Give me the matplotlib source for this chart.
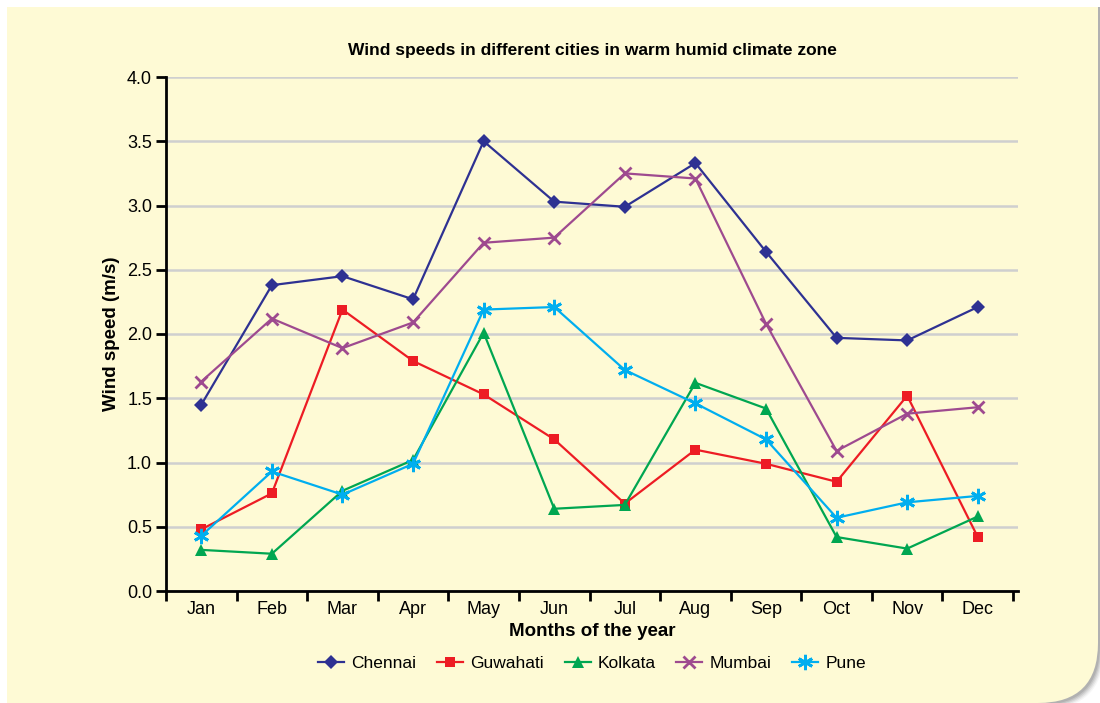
import numpy as np
import matplotlib.pyplot as plt
from matplotlib.patches import PathPatch
from matplotlib.path import Path
from matplotlib.ticker import FixedLocator, NullFormatter

plt.rcParams['font.family'] = ['Liberation Sans', 'DejaVu Sans']

months = ['Jan', 'Feb', 'Mar', 'Apr', 'May', 'Jun', 'Jul', 'Aug', 'Sep', 'Oct', 'Nov', 'Dec']
chennai = [1.45, 2.38, 2.45, 2.27, 3.50, 3.03, 2.99, 3.33, 2.64, 1.97, 1.95, 2.21]
guwahati = [0.48, 0.76, 2.19, 1.79, 1.53, 1.18, 0.68, 1.10, 0.99, 0.85, 1.52, 0.42]
kolkata = [0.32, 0.29, 0.78, 1.02, 2.01, 0.64, 0.67, 1.62, 1.42, 0.42, 0.33, 0.58]
mumbai = [1.63, 2.12, 1.89, 2.09, 2.71, 2.75, 3.25, 3.21, 2.08, 1.09, 1.38, 1.43]
pune = [0.43, 0.93, 0.75, 0.99, 2.19, 2.21, 1.72, 1.46, 1.18, 0.57, 0.69, 0.74]

bg = '#fefad5'
W, H = 1100, 703
fig = plt.figure(figsize=(11, 7.03), dpi=100, facecolor='white')

# cream panel with rounded lower-right corner and a soft shadow
def panel_path(x0, y0, x1, y1, r):
    verts = [(x0, y0), (x1 - r, y0), (x1, y0), (x1, y0 + r), (x1, y1), (x0, y1), (x0, y0)]
    codes = [Path.MOVETO, Path.LINETO, Path.CURVE3, Path.CURVE3, Path.LINETO, Path.LINETO, Path.CLOSEPOLY]
    return Path([(vx / W, vy / H) for vx, vy in verts], codes)

for i, a in enumerate(np.linspace(0.06, 0.22, 5)):
    off = 6 - i
    sh = PathPatch(panel_path(7, 0 - off, W - 2 + off, 696, 60), transform=fig.transFigure,
                   facecolor='#707070', edgecolor='none', alpha=a, zorder=-3)
    fig.patches.append(sh)
fig.patches.append(PathPatch(panel_path(7, 0, W - 2, 696, 60), transform=fig.transFigure,
                             facecolor=bg, edgecolor='none', zorder=-2))

ax = fig.add_axes([166 / W, (H - 591) / H, (1018 - 166) / W, (591 - 77) / H])
ax.set_facecolor('none')
x = np.arange(len(months)) + 0.5

series = [
    ('Chennai', chennai, '#2e3192', 'D', 7),
    ('Guwahati', guwahati, '#ed1c24', 's', 7),
    ('Kolkata', kolkata, '#00a651', '^', 8),
    ('Mumbai', mumbai, '#9e4a8f', 'x', 9),
    ('Pune', pune, '#00aeef', (6, 2, 0), 11),
]
for name, vals, col, mk, ms in series:
    kw = dict(markeredgewidth=2) if mk == 'x' or isinstance(mk, tuple) else dict(markeredgewidth=0)
    ax.plot(x, vals, color=col, lw=1.6, marker=mk, markersize=ms, markerfacecolor=col,
            markeredgecolor=col, label=name, zorder=3, **kw)

ax.set_xlim(0, 12.07)
ax.set_ylim(0, 4)
ax.set_yticks(np.arange(0, 4.01, 0.5))
ax.set_yticklabels([f'{v:.1f}' for v in np.arange(0, 4.01, 0.5)], fontsize=13)
ax.yaxis.grid(True, color='#cfcfcf', lw=1.8)
ax.set_axisbelow(True)

ax.xaxis.set_major_locator(FixedLocator(np.arange(0, 13)))
ax.xaxis.set_major_formatter(NullFormatter())
ax.xaxis.set_minor_locator(FixedLocator(x))
ax.set_xticklabels(months, minor=True, fontsize=13)
ax.tick_params(axis='x', which='minor', length=0, pad=7)
ax.tick_params(axis='x', which='major', length=7, width=2, direction='out')
ax.tick_params(axis='y', length=7, width=2, direction='out', pad=3)

for s in ('top', 'right'):
    ax.spines[s].set_visible(False)
for s in ('left', 'bottom'):
    ax.spines[s].set_linewidth(2)

ax.set_title('Wind speeds in different cities in warm humid climate zone',
             fontsize=12.5, fontweight='bold', pad=16, x=0.5)
ax.set_ylabel('Wind speed (m/s)', fontsize=13.5, fontweight='bold', labelpad=5)
ax.set_xlabel('Months of the year', fontsize=13.5, fontweight='bold', labelpad=4)

ax.legend(loc='upper center', bbox_to_anchor=(0.5, -0.095), ncol=5, frameon=False,
          fontsize=12.5, handlelength=1.5, columnspacing=1.2, handletextpad=0.4)

fig.savefig('out.png', dpi=100, facecolor='white')
